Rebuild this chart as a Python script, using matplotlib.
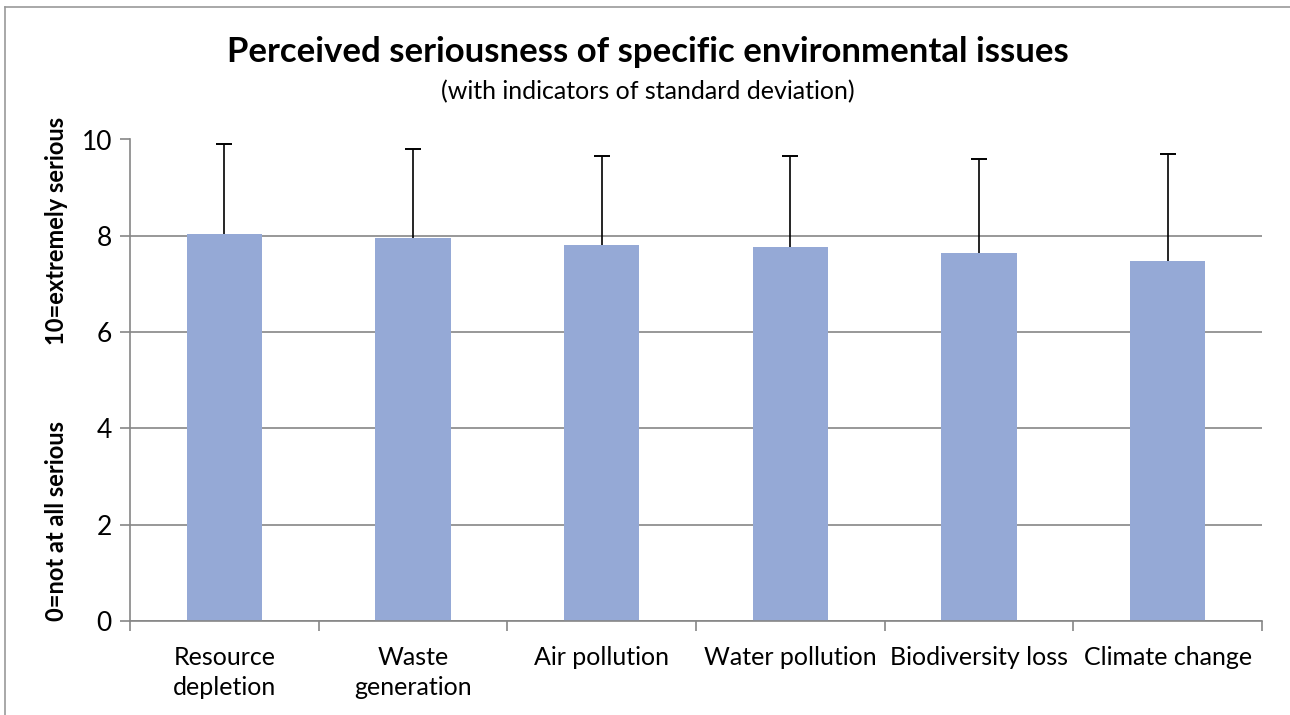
import matplotlib.pyplot as plt
import numpy as np
from matplotlib.lines import Line2D

issues = ["Resource\ndepletion", "Waste\ngeneration", "Air pollution",
          "Water pollution", "Biodiversity loss", "Climate change"]
means = [8.04, 7.96, 7.80, 7.76, 7.64, 7.48]
std_dev = [1.86, 1.85, 1.85, 1.89, 1.95, 2.22]

plt.rcParams['font.family'] = ['Lato', 'DejaVu Sans']

fig = plt.figure(figsize=(12.9, 7.15), dpi=100)
ax = fig.add_axes([130/1290, 94/715, 1132/1290, 481.5/715])

x = np.arange(len(issues))
tops = np.array(means) + np.array(std_dev)
ax.bar(x, means, width=0.4, color='#95a9d6', zorder=2)
# only the upper half of the error bar is shown, cap only at the top
ax.vlines(x, means, tops, color='black', linewidth=1.2, zorder=3)
ax.plot(x, tops, linestyle='none', marker='_', markersize=12,
        markeredgewidth=1.4, color='black', zorder=3)

ax.set_xlim(-0.5, len(issues) - 0.5)
ax.set_ylim(0, 10)
ax.set_yticks([0, 2, 4, 6, 8, 10])
ax.yaxis.grid(True, color='#868686', linewidth=1.2)
ax.set_axisbelow(True)

ax.set_xticks(x)
ax.set_xticklabels(issues, fontsize=18, linespacing=1.35)
ax.set_xticks(np.arange(-0.5, len(issues)), minor=True)
ax.tick_params(axis='x', which='major', length=0, pad=18)
ax.tick_params(axis='x', which='minor', length=7, color='#868686', width=1.2)
ax.tick_params(axis='y', length=7, color='#868686', width=1.2, labelsize=19, pad=6)

for side in ['top', 'right']:
    ax.spines[side].set_visible(False)
for side in ['left', 'bottom']:
    ax.spines[side].set_color('#868686')
    ax.spines[side].set_linewidth(1.2)

fig.text(648/1290, 1 - 52/715, "Perceived seriousness of specific environmental issues",
         ha='center', va='center', fontsize=25, fontweight='bold')
fig.text(648/1290, 1 - 92/715, "(with indicators of standard deviation)",
         ha='center', va='center', fontsize=18)

fig.text(57/1290, 1 - 621/715, "0=not at all serious", rotation=90,
         ha='center', va='bottom', fontsize=17, fontweight='bold')
fig.text(57/1290, 1 - 345/715, "10=extremely serious", rotation=90,
         ha='center', va='bottom', fontsize=17, fontweight='bold')

# chart border
fig.add_artist(Line2D([5/1290, 5/1290], [0, 1 - 7/715], color='#9a9a9a', linewidth=1.2))
fig.add_artist(Line2D([5/1290, 1], [1 - 7/715, 1 - 7/715], color='#9a9a9a', linewidth=1.2))

fig.savefig("out.png", dpi=100)
